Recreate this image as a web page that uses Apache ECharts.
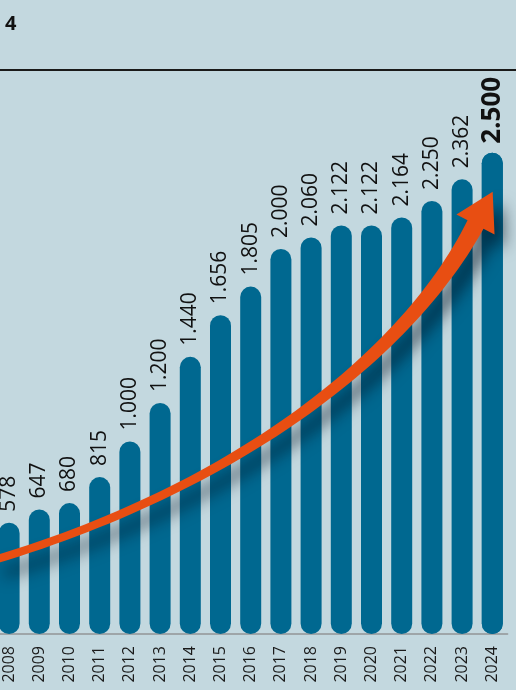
<!DOCTYPE html>
<html>
<head>
<meta charset="utf-8">
<script src="https://cdn.jsdelivr.net/npm/echarts@6/dist/echarts.min.js"></script>
<style>
html,body{margin:0;padding:0;background:#c3d8df;overflow:hidden;}
#chart{width:522px;height:690px;position:relative;left:-6px;}
</style>
</head>
<body>
<div id="chart"></div>
<script>
const years = ['2008','2009','2010','2011','2012','2013','2014','2015','2016','2017','2018','2019','2020','2021','2022','2023','2024'];
const values = [578, 647, 680, 815, 1000, 1200, 1440, 1656, 1805, 2000, 2060, 2122, 2122, 2164, 2250, 2362, 2500];
const valueLabels = ['578','647','680','815','1.000','1.200','1.440','1.656','1.805','2.000','2.060','2.122','2.122','2.164','2.250','2.362','2.500'];
const titleText = '4';

const FONT = '"Open Sans", "DejaVu Sans", sans-serif';
const OFF = 6; // container offset

// decorative arrow (tapered bezier with head)
function arrowPoints() {
  const P0 = [-6+OFF, 560], P1 = [234+OFF, 488], P2 = [406+OFF, 357], P3 = [475.5+OFF, 224.5];
  const N = 60, left = [], right = [];
  function pt(t) {
    const a = (1-t)*(1-t)*(1-t), b = 3*(1-t)*(1-t)*t, c = 3*(1-t)*t*t, d = t*t*t;
    return [a*P0[0]+b*P1[0]+c*P2[0]+d*P3[0], a*P0[1]+b*P1[1]+c*P2[1]+d*P3[1]];
  }
  function tan(t) {
    const a = 3*(1-t)*(1-t), b = 6*(1-t)*t, c = 3*t*t;
    const x = a*(P1[0]-P0[0]) + b*(P2[0]-P1[0]) + c*(P3[0]-P2[0]);
    const y = a*(P1[1]-P0[1]) + b*(P2[1]-P1[1]) + c*(P3[1]-P2[1]);
    const l = Math.hypot(x, y);
    return [x/l, y/l];
  }
  for (let i = 0; i <= N; i++) {
    const t = i / N, p = pt(t), d = tan(t);
    const w = (8 + 10 * t * t) / 2;
    const n = [-d[1], d[0]];
    left.push([p[0] + n[0]*w, p[1] + n[1]*w]);
    right.push([p[0] - n[0]*w, p[1] - n[1]*w]);
  }
  const d = tan(1), n = [-d[1], d[0]], hw = 21.5, hl = 37;
  const head = [
    [P3[0] + n[0]*hw, P3[1] + n[1]*hw],
    [P3[0] + d[0]*hl, P3[1] + d[1]*hl],
    [P3[0] - n[0]*hw, P3[1] - n[1]*hw]
  ];
  return left.concat(head).concat(right.reverse());
}

const last = values.length - 1;
const chart = echarts.init(document.getElementById('chart'), null, {renderer: 'canvas'});
chart.setOption({
  backgroundColor: '#c3d8df',
  animation: false,
  title: {
    text: titleText, left: OFF, top: 9,
    textStyle: {fontFamily: FONT, fontSize: 20, fontWeight: 'bold', color: '#111'}
  },
  grid: {left: 0, right: 8.6, top: 70, bottom: 56, containLabel: false},
  xAxis: {
    type: 'category', data: years,
    axisLine: {show: true, lineStyle: {color: '#9ea5a8', width: 2}},
    axisTick: {show: false},
    axisLabel: {rotate: 90, margin: 12, fontFamily: FONT, fontSize: 16, color: '#1a1a1a'}
  },
  yAxis: {
    type: 'value', min: 0, max: 2930,
    show: false, splitLine: {show: false}
  },
  series: [{
    type: 'bar', data: values, barWidth: 21, z: 2,
    itemStyle: {color: '#006890', borderRadius: 10.5},
    label: {
      show: true, position: 'top', rotate: 90, distance: 11,
      align: 'left', verticalAlign: 'middle',
      fontFamily: FONT, fontSize: 21, color: '#111',
      formatter: p => p.dataIndex === last ? '' : valueLabels[p.dataIndex]
    },
    emphasis: {disabled: true}
  }, {
    type: 'bar', data: values.map((v, i) => i === last ? v : null),
    barWidth: 21, barGap: '-100%', z: 3, silent: true,
    itemStyle: {color: '#006890', borderRadius: 10.5},
    label: {
      show: true, position: 'top', rotate: 90, distance: 9,
      align: 'left', verticalAlign: 'middle',
      fontFamily: FONT, fontSize: 26, fontWeight: 'bold', color: '#111',
      formatter: p => valueLabels[p.dataIndex]
    },
    emphasis: {disabled: true}
  }],
  graphic: [
    {type: 'line', shape: {x1: 0, y1: 70, x2: 522, y2: 70}, style: {stroke: '#1a1a1a', lineWidth: 2}, z: 10},
    {type: 'polygon', shape: {points: arrowPoints()}, z: 20,
     style: {fill: '#e84e12', shadowBlur: 16, shadowOffsetX: 10, shadowOffsetY: 13, shadowColor: 'rgba(0,15,30,0.6)'}}
  ]
});
</script>
</body>
</html>
